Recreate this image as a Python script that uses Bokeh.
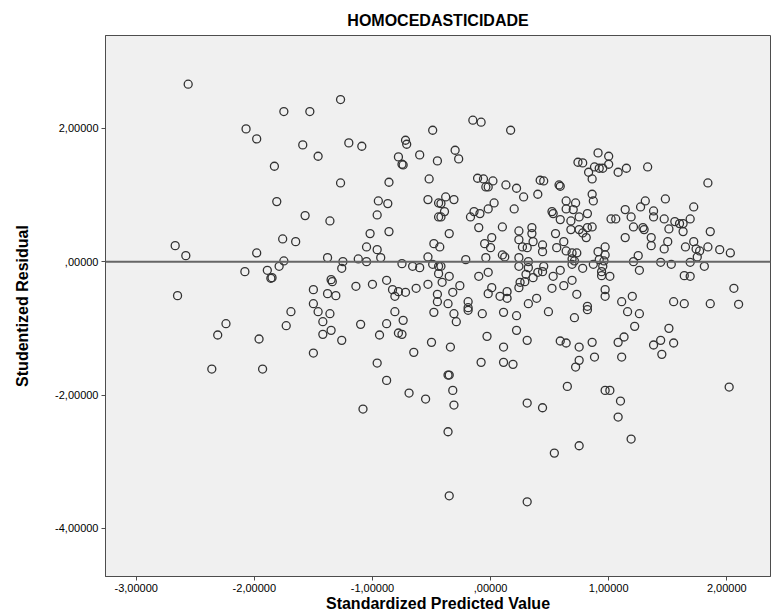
from bokeh.plotting import figure
from bokeh.models import FixedTicker, Span
from bokeh.embed import file_html
from bokeh.resources import INLINE

# Standardized predicted value (x) and studentized residual (y)
pred = [
    -2.56, -2.07, -1.98, -1.83, -1.81, -2.67, -2.58, -2.65, -1.98, -2.08,
    -1.89, -1.86, -2.24, -2.31, -1.96, -2.36, -1.93, -1.27, -1.75, -1.53,
    -0.49, -1.59, -1.20, -1.09, -0.72, -0.71, -1.46, -0.60, -0.78, -0.75,
    -0.74, -0.45, -1.27, -0.86, -0.52, -0.95, -0.87, -0.53, -0.44, -1.57,
    -1.36, -0.96, -0.44, -0.15, -0.08, 0.17, -0.30, -0.27, 0.91, 0.74,
    0.78, 0.88, 0.92, 0.95, 0.83, 0.86, -0.11, -0.06, 0.02, -0.04,
    -0.02, 0.13, 0.22, 0.28, 0.40, 0.42, 0.45, 0.58, 0.59, 0.86,
    0.87, 0.64, 0.72, 0.70, 0.64, 0.82, -0.38, -0.42, -0.31, -0.39,
    -0.42, 0.03, -0.02, -0.14, -0.09, -0.17, 0.20, 0.52, 0.53, 0.75,
    1.00, 1.00, 1.08, 1.15, 1.33, 1.84, 1.31, 1.27, 1.48, 1.38,
    1.14, 1.72, 1.02, 1.06, 1.19, 1.38, 1.47, 1.69, -1.76, -1.65,
    -1.02, -0.86, -1.05, -0.96, -0.48, -0.53, -1.75, -1.38, -1.25, -1.12,
    -1.05, -0.93, -0.75, -0.66, -0.60, -0.49, -0.44, -1.79, -1.85, -1.26,
    -1.35, -1.34, -1.50, -1.38, -1.31, -1.14, -1.00, -0.88, -0.83, -0.78,
    -0.72, -0.81, -0.63, -0.53, -0.45, -1.50, -1.69, -1.46, -1.36, -0.81,
    -0.48, -0.45, -1.73, -1.42, -1.42, -1.35, -1.26, -1.10, -1.50, -0.88,
    -0.74, -0.94, -0.78, -0.75, -0.50, -0.65, -0.96, -0.88, -0.69, -0.55,
    -1.08, -0.31, -0.29, -0.19, -0.07, 0.11, 0.22, 0.49, 0.71, 0.82,
    -0.34, -0.03, 0.11, 0.22, 0.31, 0.59, 0.64, 0.75, 0.86, 0.75,
    0.72, 0.88, -0.08, 0.11, 0.19, -0.36, -0.35, -0.32, -0.31, 0.65,
    0.31, 0.44, 0.97, -0.36, 0.75, 0.54, -0.35, 0.31, 1.16, 1.26,
    1.22, 1.51, 1.13, 1.08, 1.44, 1.38, 1.55, 1.11, 1.45, 2.02,
    1.01, 1.10, 1.08, 1.19, 1.86, 2.10, -0.10, -0.35, 0.10, 0.24,
    0.35, 0.35, 0.55, 0.59, 0.68, 0.68, 0.75, 0.82, 0.86, 0.78,
    0.81, -0.43, -0.05, 0.01, 0.00, -0.04, 0.10, 0.12, -0.21, 0.24,
    0.27, 0.31, 0.36, 0.44, 0.44, 0.56, 0.62, 0.64, 0.69, 0.73,
    0.69, 0.71, 0.91, 0.92, 0.24, 0.32, 0.24, 0.32, 0.45, 0.44,
    0.40, 0.30, 0.36, 0.29, 0.25, 0.24, 0.59, 0.53, 0.69, 0.78,
    0.87, 0.94, 0.94, -0.42, -0.44, -0.35, -0.10, -0.02, -0.41, -0.26,
    -0.32, 0.01, -0.02, 0.14, 0.08, 0.14, -0.36, -0.19, -0.19, 0.32,
    0.39, 0.52, 0.62, 0.69, 0.73, 0.82, 1.21, 1.29, 1.30, 1.51,
    1.56, 1.60, 1.63, 1.63, 1.86, 1.14, 1.36, 1.36, 1.50, 1.47,
    1.65, 1.72, 1.74, 1.77, 1.75, 1.84, 1.94, 2.03, 0.97, 0.97,
    0.96, 0.95, 1.25, 1.21, 1.44, 1.53, 1.26, 1.69, 1.81, 1.01,
    1.64, 1.69, 0.97, 0.97, 2.06, 1.11, 1.20, 1.55, 1.64,
]
resid = [
    2.66, 1.99, 1.84, 1.43, 0.90, 0.24, 0.09, -0.51, 0.13, -0.15,
    -0.13, -0.25, -0.93, -1.10, -1.16, -1.61, -1.61, 2.43, 2.25, 2.25,
    1.97, 1.75, 1.78, 1.73, 1.82, 1.76, 1.58, 1.60, 1.57, 1.46,
    1.45, 1.51, 1.18, 1.19, 1.24, 0.91, 0.87, 0.93, 0.88, 0.69,
    0.61, 0.70, 0.67, 2.12, 2.09, 1.97, 1.67, 1.54, 1.63, 1.49,
    1.48, 1.42, 1.40, 1.40, 1.34, 1.24, 1.25, 1.24, 1.21, 1.12,
    1.12, 1.15, 1.10, 0.97, 1.01, 1.22, 1.21, 1.15, 1.13, 1.01,
    0.91, 0.91, 0.88, 0.78, 0.79, 0.72, 0.97, 0.87, 0.93, 0.75,
    0.67, 0.88, 0.79, 0.75, 0.72, 0.67, 0.79, 0.75, 0.72, 0.67,
    1.58, 1.46, 1.34, 1.40, 1.42, 1.18, 0.91, 0.82, 0.94, 0.76,
    0.78, 0.82, 0.64, 0.64, 0.67, 0.67, 0.64, 0.64, 0.34, 0.30,
    0.42, 0.45, 0.22, 0.18, 0.27, 0.07, 0.01, 0.06, 0.00, 0.04,
    0.00, 0.06, -0.03, -0.07, -0.09, -0.04, -0.07, -0.07, -0.24, -0.10,
    -0.27, -0.30, -0.42, -0.48, -0.51, -0.37, -0.34, -0.28, -0.42, -0.45,
    -0.46, -0.52, -0.40, -0.34, -0.49, -0.63, -0.75, -0.75, -0.78, -0.75,
    -0.76, -0.60, -0.96, -0.90, -1.09, -1.03, -1.18, -0.94, -1.37, -0.93,
    -0.88, -1.10, -1.07, -1.09, -1.21, -1.36, -1.52, -1.78, -1.97, -2.06,
    -2.21, -0.78, -0.90, -0.73, -0.78, -0.76, -0.81, -0.75, -0.84, -0.72,
    -1.28, -1.12, -1.28, -1.03, -1.18, -1.19, -1.22, -1.28, -1.21, -1.48,
    -1.58, -1.43, -1.51, -1.51, -1.54, -1.70, -1.70, -1.93, -2.15, -1.87,
    -2.12, -2.19, -1.93, -2.55, -2.76, -2.87, -3.51, -3.60, -0.75, -0.78,
    -0.97, -1.00, -1.13, -1.21, -1.18, -1.25, -1.22, -1.43, -1.39, -1.88,
    -1.93, -2.09, -2.33, -2.66, -0.63, -0.64, 0.51, 0.42, 0.52, 0.46,
    0.51, 0.42, 0.42, 0.63, 0.61, 0.48, 0.48, 0.51, 0.52, 0.43,
    0.36, 0.22, 0.27, 0.36, 0.21, 0.06, 0.10, 0.07, 0.03, 0.33,
    0.22, 0.21, 0.30, 0.25, 0.15, 0.21, 0.30, 0.16, 0.13, 0.13,
    0.04, 0.01, 0.15, 0.03, 0.06, 0.00, -0.07, -0.09, -0.07, -0.15,
    -0.16, -0.19, -0.24, -0.30, -0.31, -0.39, -0.13, -0.22, -0.04, -0.10,
    -0.04, -0.15, -0.21, -0.07, -0.18, -0.22, -0.22, -0.16, -0.31, -0.36,
    -0.46, -0.39, -0.48, -0.45, -0.52, -0.55, -0.63, -0.60, -0.69, -0.63,
    -0.55, -0.40, -0.36, -0.28, -0.49, -0.67, 0.52, 0.51, 0.48, 0.49,
    0.60, 0.57, 0.57, 0.45, 0.45, 0.36, 0.36, 0.24, 0.30, 0.19,
    0.22, 0.30, 0.19, 0.16, 0.07, 0.22, 0.18, 0.13, 0.22, 0.10,
    0.01, -0.07, 0.09, 0.00, -0.01, -0.04, -0.13, -0.01, -0.07, -0.22,
    -0.21, -0.22, -0.42, -0.52, -0.40, -0.60, -0.52, -0.60, -0.63,
]

x_ticks = [-3, -2, -1, 0, 1, 2]
x_tick_labels = ["-3,00000", "-2,00000", "-1,00000", ",00000", "1,00000", "2,00000"]
y_ticks = [-4, -2, 0, 2]
y_tick_labels = ["-4,00000", "-2,00000", ",00000", "2,00000"]

FONT = "Liberation Sans"

p = figure(width=782, height=614, x_range=(-3.26, 2.37), y_range=(-4.72, 3.39),
           output_backend="svg", toolbar_location=None,
           title="HOMOCEDASTICIDADE",
           min_border_left=105, min_border_right=12, min_border_top=35, min_border_bottom=36)

p.background_fill_color = "#f0f0f0"
p.border_fill_color = "white"
p.outline_line_color = "#4d4d4d"
p.outline_line_width = 1
p.xgrid.visible = False
p.ygrid.visible = False

p.title.align = "center"
p.title.text_font = FONT
p.title.text_font_size = "16px"
p.title.text_font_style = "bold"
p.title.text_color = "black"
p.title.standoff = 13

for ax in (p.xaxis[0], p.yaxis[0]):
    ax.axis_line_color = "#4d4d4d"
    ax.major_tick_line_color = "#4d4d4d"
    ax.major_tick_in = 0
    ax.major_tick_out = 4
    ax.minor_tick_line_color = None
    ax.major_label_text_font = FONT
    ax.major_label_text_font_size = "11px"
    ax.major_label_text_color = "black"
    ax.axis_label_text_font = FONT
    ax.axis_label_text_font_size = "16px"
    ax.axis_label_text_font_style = "bold"
    ax.axis_label_text_color = "black"
    ax.major_label_standoff = 3

p.xaxis[0].axis_label_standoff = 0
p.yaxis[0].axis_label_standoff = 21

p.xaxis.ticker = FixedTicker(ticks=x_ticks)
p.xaxis.major_label_overrides = dict(zip(x_ticks, x_tick_labels))
p.yaxis.ticker = FixedTicker(ticks=y_ticks)
p.yaxis.major_label_overrides = dict(zip(y_ticks, y_tick_labels))
p.xaxis.axis_label = "Standardized Predicted Value"
p.yaxis.axis_label = "Studentized Residual"

p.add_layout(Span(location=0, dimension="width", line_color="#666666", line_width=2))

p.scatter(pred, resid, marker="circle", size=8, fill_color=None,
          line_color="#333333", line_width=1.3)

open("out.html", "w").write(file_html(p, INLINE))
